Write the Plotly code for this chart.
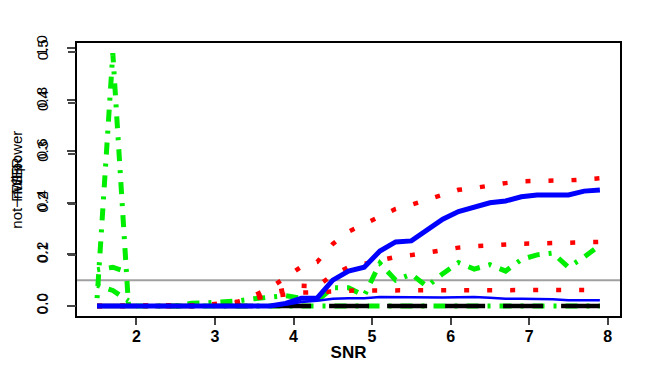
import plotly.graph_objects as go

# SNR grid
snr = [1.5, 1.7, 1.9, 2.1, 2.3, 2.5, 2.7, 2.9, 3.1, 3.3, 3.5, 3.7, 3.9, 4.1, 4.3,
       4.5, 4.7, 4.9, 5.1, 5.3, 5.5, 5.7, 5.9, 6.1, 6.3, 6.5, 6.7, 6.9, 7.1, 7.3,
       7.5, 7.7, 7.9]

# power curves (blue)
powerThick = [0, 0, 0, 0, 0, 0, 0, 0, 0, 0, 0, 0.0, 0.01, 0.03, 0.03,
              0.10, 0.135, 0.15, 0.213, 0.248, 0.252, 0.297, 0.336, 0.366, 0.381, 0.40,
              0.407, 0.423, 0.43, 0.429, 0.43, 0.445, 0.449]
powerThin = [0, 0, 0, 0, 0, 0, 0, 0, 0, 0, 0, 0.0, 0.005, 0.015, 0.02,
             0.028, 0.03, 0.03, 0.035, 0.034, 0.034, 0.032, 0.033, 0.034, 0.035, 0.032,
             0.028, 0.028, 0.028, 0.026, 0.022, 0.022, 0.022]

# red dotted curves
redHigh = [0, 0, 0, 0, 0, 0, 0, 0, 0.005, 0.015, 0.04, 0.07, 0.11, 0.152, 0.17,
           0.24, 0.288, 0.318, 0.348, 0.376, 0.392, 0.41, 0.432, 0.45, 0.457, 0.468,
           0.476, 0.483, 0.483, 0.485, 0.487, 0.49, 0.495]
redMid = [0, 0, 0, 0, 0, 0, 0, 0, 0.004, 0.012, 0.03, 0.05, 0.062, 0.078, 0.076,
          0.12, 0.15, 0.163, 0.173, 0.19, 0.197, 0.207, 0.217, 0.226, 0.231, 0.235,
          0.238, 0.241, 0.242, 0.243, 0.245, 0.247, 0.248]
redLow = [0, 0, 0, 0, 0, 0, 0, 0.005, 0.01, 0.017, 0.03, 0.037, 0.043, 0.052, 0.053,
          0.057, 0.059, 0.06, 0.06, 0.06, 0.06, 0.061, 0.062, 0.062, 0.063, 0.063,
          0.062, 0.062, 0.062, 0.062, 0.061, 0.062, 0.062]

# green dot-dash curves
greenPeak = [0.03, 0.98, 0.0, 0, 0, 0, 0, 0, 0, 0, 0, 0, 0, 0, 0,
             0, 0, 0, 0, 0, 0, 0, 0, 0, 0, 0, 0, 0, 0, 0, 0, 0, 0]
greenUp = [0.14, 0.15, 0.13, None, None, 0.0, 0.01, 0.012, 0.015, 0.02, 0.028, 0.035, 0.04, 0.03, 0.02,
           0.07, 0.07, 0.04, 0.165, 0.10, 0.123, 0.075, 0.125, 0.168, 0.143, 0.16,
           0.135, 0.18, 0.198, 0.205, 0.15, 0.19, 0.235]
greenLow = [0.08, 0.06, 0.02] + [None] * 30

# black dashed
blackZero = [0] * 33

yTicks = [0.0, 0.2, 0.4, 0.6, 0.8, 1.0]
yTickText = ["0.0", "0.2", "0.4", "0.6", "0.8", "1.0"]
y2Ticks = [0.0, 0.1, 0.2, 0.3, 0.4, 0.5]
y2TickText = ["0.0", "0.1", "0.2", "0.3", "0.4", "0.5"]
xTicks = [2, 3, 4, 5, 6, 7, 8]

yRange = [-0.039, 1.019]
y2Scale = 0.508

fig = go.Figure()

greenDash = "3px,9px,12px,9px"
for ys in [greenPeak, greenUp, greenLow]:
    fig.add_trace(go.Scatter(x=snr, y=ys, mode="lines",
                             line=dict(color="#00ee00", width=5, dash=greenDash)))
for ys in [redHigh, redMid, redLow]:
    fig.add_trace(go.Scatter(x=snr, y=ys, mode="lines",
                             line=dict(color="#ff0000", width=4.5, dash="5px,18px")))
fig.add_trace(go.Scatter(x=snr, y=blackZero, mode="lines",
                         line=dict(color="black", width=4.5, dash="40px,18px")))
fig.add_trace(go.Scatter(x=snr, y=powerThin, mode="lines",
                         line=dict(color="#0000ff", width=2.5)))
fig.add_trace(go.Scatter(x=snr, y=powerThick, mode="lines",
                         line=dict(color="#0000ff", width=5)))

# second (overlaid) axis for the error-rate scale
fig.add_trace(go.Scatter(x=[snr[0]], y=[0], yaxis="y2", mode="markers",
                         marker=dict(opacity=0), hoverinfo="skip"))

# reference level
fig.add_shape(type="line", xref="x domain", yref="y", x0=0, x1=1, y0=0.1, y1=0.1,
              line=dict(color="#a0a0a0", width=2), layer="below")

font = "Liberation Sans, Arial, sans-serif"
# page body offsets the figure by 8px, so it is drawn a bit smaller than the window
fig.update_layout(
    width=651, height=363,
    margin=dict(l=69, r=39, t=35, b=55),
    paper_bgcolor="white", plot_bgcolor="white",
    showlegend=False,
    font=dict(family=font, color="black"),
    xaxis=dict(range=[1.244, 8.156], tickvals=xTicks, ticks="outside", ticklen=7,
               tickwidth=1.5, showline=True, mirror=True, linecolor="black",
               linewidth=1.5, showgrid=False, zeroline=False, automargin=False,
               ticklabelstandoff=-2,
               tickfont=dict(size=16, family=font, weight="bold"),
               title=dict(text="SNR", font=dict(size=17, family=font, weight="bold"),
                          standoff=2)),
    yaxis=dict(range=yRange, tickvals=yTicks, ticktext=yTickText, tickangle=-90,
               ticks="outside", ticklen=8, tickwidth=1.5, showline=True, mirror=True,
               linecolor="black", linewidth=1.5, showgrid=False, zeroline=False,
               automargin=False, ticklabelstandoff=14,
               tickfont=dict(size=15, family=font)),
    yaxis2=dict(range=[yRange[0] * y2Scale, yRange[1] * y2Scale], overlaying="y",
                side="left", anchor="x", tickvals=y2Ticks, ticktext=y2TickText,
                tickangle=-90, ticks="outside", ticklen=8, tickwidth=1.5,
                tickcolor="#444", showgrid=False, zeroline=False, showline=False,
                automargin=False, ticklabelstandoff=14,
                tickfont=dict(size=15, family=font)),
)

# overlapping y-axis titles
for txt in ["not\u2212null power", "FWER", "FSR"]:
    fig.add_annotation(text=txt, xref="paper", yref="paper", x=-0.112, y=0.5,
                       xanchor="center", yanchor="middle", textangle=-90,
                       showarrow=False, font=dict(size=15, family=font))

fig.write_html("out.html")
